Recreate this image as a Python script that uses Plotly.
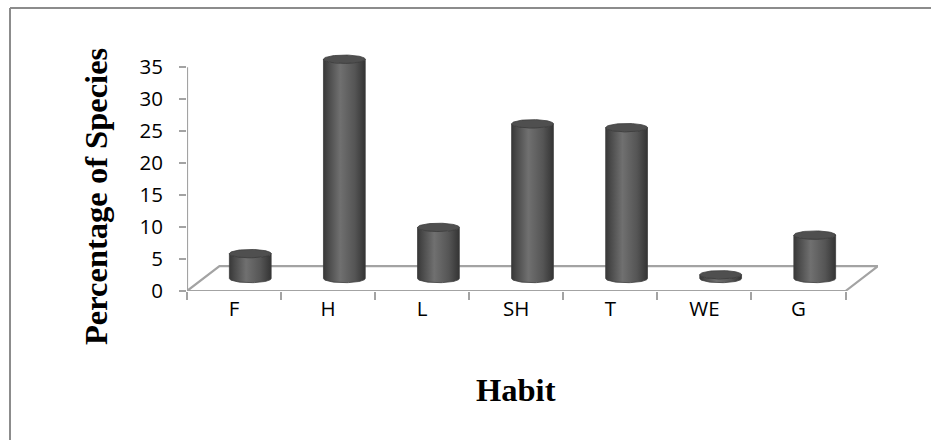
import numpy as np
import plotly.graph_objects as go

# Share of species by growth habit (%)
habits = ["F", "H", "L", "SH", "T", "WE", "G"]
percent = [3.9, 34.3, 8.0, 24.2, 23.6, 0.6, 6.8]
y_ticks = [0, 5, 10, 15, 20, 25, 30, 35]

# Pseudo-3D geometry, in axis units
DEPTH_X = 0.345      # floor depth along x (category units)
DEPTH_Y = 3.9        # floor depth along y (value units)
RADIUS_X = 0.222     # cylinder half-width
RADIUS_Y = 0.65      # half-height of the elliptical caps

W, H = 931, 440
X_RANGE = [-0.5, len(habits) - 0.5 + DEPTH_X]
Y_RANGE = [0, 38]
M_L, M_B, M_T = 187, 149, 48
M_R = W - M_L - 691

AXIS_GREY = "#a3a3a3"
fig = go.Figure()

theta_front = np.linspace(np.pi, 2 * np.pi, 40)
theta_full = np.linspace(0, 2 * np.pi, 80)
base = DEPTH_Y / 2

for i, (name, v) in enumerate(zip(habits, percent)):
    cx = i + DEPTH_X / 2
    top = base + v
    # side of the cylinder: left edge, front arc of the top, right edge, front arc of the base
    xs = np.concatenate([
        [cx - RADIUS_X],
        cx + RADIUS_X * np.cos(theta_front),
        [cx + RADIUS_X],
        cx + RADIUS_X * np.cos(theta_front[::-1]),
    ])
    ys = np.concatenate([
        [base],
        top + RADIUS_Y * np.sin(theta_front),
        [base],
        base + RADIUS_Y * np.sin(theta_front[::-1]),
    ])
    fig.add_trace(go.Scatter(
        x=xs, y=ys, mode="lines", fill="toself",
        line=dict(width=0.8, color="#3e3e3e"),
        fillgradient=dict(
            type="horizontal",
            colorscale=[[0, "#383838"], [0.12, "#4a4a4a"], [0.4, "#707070"],
                        [0.75, "#555555"], [1, "#343434"]],
        ),
        hoverinfo="skip", showlegend=False,
    ))
    # top cap
    fig.add_trace(go.Scatter(
        x=cx + RADIUS_X * np.cos(theta_full),
        y=top + RADIUS_Y * np.sin(theta_full),
        mode="lines", fill="toself",
        line=dict(width=0.8, color="#3c3c3c"),
        fillcolor="#4f4f4f",
        name=name, text=[f"{name}: {v}%"] * len(theta_full),
        hoverinfo="text", showlegend=False,
    ))

# floor outline and value axis line
x0, x1 = -0.5, len(habits) - 0.5
floor_path = (f"M {x0 + DEPTH_X},{DEPTH_Y} L {x1 + DEPTH_X},{DEPTH_Y} "
              f"L {x1},0 L {x0},0 Z")
shapes = [
    dict(type="path", path=floor_path, xref="x", yref="y",
         line=dict(color=AXIS_GREY, width=2.2), layer="below"),
    dict(type="line", xref="x", yref="y", x0=x0, x1=x0, y0=0, y1=y_ticks[-1],
         line=dict(color=AXIS_GREY, width=2.2), layer="below"),
]

# outer chart border (left and top edges)
px_to_paper_x = lambda px: (px - M_L) / 691
px_to_paper_y = lambda py: (H - M_B - py) / (H - M_B - M_T)
shapes.append(dict(
    type="line", xref="paper", yref="paper",
    x0=px_to_paper_x(10), x1=px_to_paper_x(10),
    y0=px_to_paper_y(440), y1=px_to_paper_y(8),
    line=dict(color="#8c8c8c", width=2),
))
shapes.append(dict(
    type="line", xref="paper", yref="paper",
    x0=px_to_paper_x(10), x1=px_to_paper_x(931),
    y0=px_to_paper_y(8), y1=px_to_paper_y(8),
    line=dict(color="#8c8c8c", width=2),
))

label_font = dict(family="Open Sans", size=20.5, color="#000000")
title_font = dict(family="Liberation Serif", size=32.5, color="#000000", weight="bold")

fig.update_layout(
    width=W, height=H,
    margin=dict(l=M_L, r=M_R, t=M_T, b=M_B),
    paper_bgcolor="white", plot_bgcolor="white",
    shapes=shapes,
    xaxis=dict(
        range=X_RANGE, showgrid=False, zeroline=False, showline=False,
        tickmode="array", tickvals=list(range(len(habits))), ticktext=habits,
        ticks="", tickfont=label_font, ticklabelstandoff=3,
        minor=dict(tickmode="linear", tick0=-0.5, dtick=1, ticks="outside",
                   ticklen=8, tickwidth=2, tickcolor=AXIS_GREY, showgrid=False),
    ),
    yaxis=dict(
        range=Y_RANGE, showgrid=False, zeroline=False, showline=False,
        tickmode="array", tickvals=y_ticks, ticks="outside", ticklen=7,
        tickwidth=2, tickcolor=AXIS_GREY, tickfont=label_font,
        ticklabelstandoff=12,
    ),
    annotations=[
        dict(text="Percentage of Species", textangle=-90, showarrow=False,
             xref="paper", yref="paper", x=px_to_paper_x(96), y=px_to_paper_y(196),
             xanchor="center", yanchor="middle", font=title_font),
        dict(text="Habit", showarrow=False,
             xref="paper", yref="paper", x=px_to_paper_x(516), y=px_to_paper_y(390),
             xanchor="center", yanchor="middle", font=title_font),
    ],
)

# keep the page free of scrollbars around the fixed-size figure
fig.write_html(
    "out.html",
    post_script="document.documentElement.style.overflow='hidden';"
                "document.body.style.overflow='hidden';document.body.style.margin='0';",
)
